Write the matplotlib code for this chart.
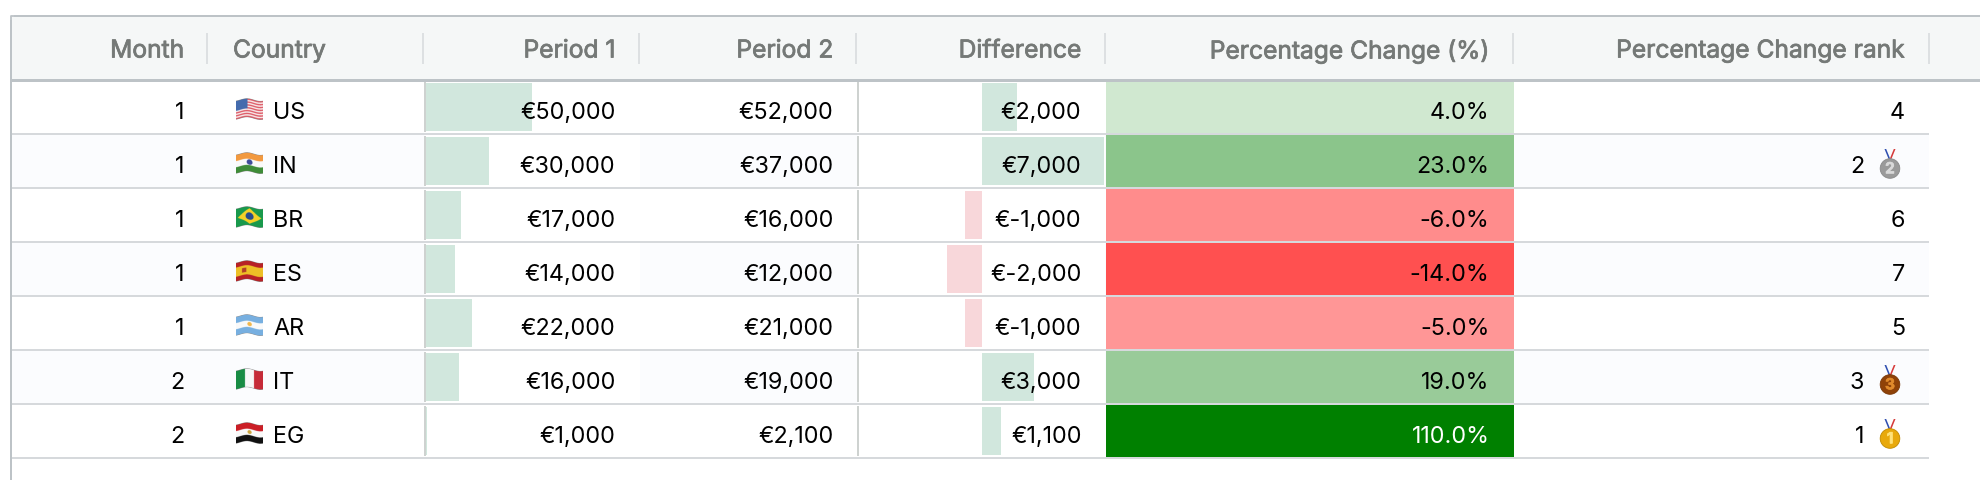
import numpy as np
import matplotlib
matplotlib.use("Agg")
import matplotlib.pyplot as plt
import matplotlib.patheffects as pe
from matplotlib.patches import Rectangle, Circle, Polygon, FancyBboxPatch

# ---- data ----
headers = ["Month", "Country", "Period 1", "Period 2", "Difference", "Percentage Change (%)", "Percentage Change rank"]
months = [1, 1, 1, 1, 1, 2, 2]
countries = ["US", "IN", "BR", "ES", "AR", "IT", "EG"]
period1 = [50000, 30000, 17000, 14000, 22000, 16000, 1000]
period2 = [52000, 37000, 16000, 12000, 21000, 19000, 2100]
difference = [2000, 7000, -1000, -2000, -1000, 3000, 1100]
pct_change = [4.0, 23.0, -6.0, -14.0, -5.0, 19.0, 110.0]
ranks = [4, 2, 6, 7, 5, 3, 1]

# ---- styles / layout (pixels) ----
plt.rcParams['font.family'] = ['Inter', 'DejaVu Sans']
W, H = 1980, 480
HEAD_TOP, HEAD_BOT = 16, 80
ROW_H = 54
SEPS = [207, 423, 639, 856, 1105, 1513, 1929]
HEAD_RIGHT = [184, None, 615.5, 833.5, 1081.5, 1489.5, 1905]
VAL_SIZE = 16.8
HEAD_SIZE = 17.7
HEAD_COLOR = "#757977"
BORDER = "#bdc3c7"
ROWLINE = "#d6d9dc"
STRIPE = "#fbfcfe"
BAR_POS = "#d1e7dd"
BAR_NEG = "#f8d7da"
P1_SCALE = 107 / 50000
DIFF_SCALE = 122 / 7000
DIFF_ZERO = 982
PCT_COLORS = ["#d0e8d0", "#8bc58b", "#ff8c8c", "#ff5050", "#ff9696", "#99cb99", "#008000"]
MEDALS = {1: ("#e8a90c", "#ffe27a", "#c08a00"),
          2: ("#9a9a9a", "#d9d9d9", "#8a8a8a"),
          3: ("#8f4208", "#e08a2c", "#7a3807")}

fig = plt.figure(figsize=(W / 100, H / 100), dpi=100)
ax = fig.add_axes([0, 0, 1, 1])
ax.axis("off")


def px_rect(x0, y0, x1, y1, color, z=1):
    ax.add_patch(Rectangle((x0, y0), x1 - x0, y1 - y0, facecolor=color, edgecolor="none", zorder=z))


def flag_color(code, u, v):
    if code == "US":
        if u < 0.42 and v < 0.54:
            return (0.27, 0.42, 0.68)
        return (0.87, 0.35, 0.40) if int(v * 13) % 2 == 0 else (0.97, 0.93, 0.93)
    if code == "IN":
        if (u - .5) ** 2 + ((v - .5) * .75) ** 2 < 0.012:
            return (0.25, 0.30, 0.60)
        return (0.95, 0.60, 0.25) if v < 1 / 3 else (0.98, 0.98, 0.98) if v < 2 / 3 else (0.25, 0.55, 0.22)
    if code == "BR":
        if (u - .5) ** 2 + ((v - .5) * .75) ** 2 < 0.022:
            return (0.15, 0.30, 0.55)
        if abs(u - .5) / .44 + abs(v - .5) / .42 < 1:
            return (0.96, 0.82, 0.15)
        return (0.10, 0.60, 0.30)
    if code == "ES":
        if 0.22 < u < 0.38 and 0.38 < v < 0.62:
            return (0.70, 0.25, 0.15)
        return (0.93, 0.75, 0.15) if 0.25 < v < 0.75 else (0.72, 0.13, 0.15)
    if code == "AR":
        if (u - .5) ** 2 + ((v - .5) * .75) ** 2 < 0.007:
            return (0.95, 0.72, 0.30)
        return (0.98, 0.98, 0.98) if 1 / 3 < v < 2 / 3 else (0.47, 0.69, 0.88)
    if code == "IT":
        return (0.10, 0.55, 0.27) if u < 1 / 3 else (0.97, 0.97, 0.97) if u < 2 / 3 else (0.78, 0.17, 0.22)
    if code == "EG":
        if (u - .5) ** 2 + ((v - .5) * .75) ** 2 < 0.006:
            return (0.80, 0.65, 0.25)
        return (0.80, 0.12, 0.15) if v < 1 / 3 else (0.98, 0.98, 0.98) if v < 2 / 3 else (0.07, 0.07, 0.07)
    return (1, 1, 1)


def draw_flag(code, x0, y0, w=27, h=22):
    ss = 6
    nx, ny = w * ss, h * ss
    img = np.zeros((ny, nx, 4))
    for j in range(ny):
        for i in range(nx):
            u = i / nx
            yy = j / ny
            off = -0.06 * np.sin(2 * np.pi * (u - 0.15))
            v = (yy - off - 0.08) / 0.84
            if 0 <= v < 1:
                img[j, i, :3] = flag_color(code, u, v)
                img[j, i, 3] = 1
    ax.imshow(img, extent=(x0, x0 + w, y0 + h, y0), aspect="auto", interpolation="antialiased", zorder=4)


def draw_medal(rank, cx, cy):
    base, light, dark = MEDALS[rank]
    top = cy - 19.5
    ax.add_patch(Polygon([(cx - 5.5, top), (cx - 3.8, top), (cx + 0.5, cy - 9), (cx - 1.2, cy - 9)],
                         facecolor="#2f4fb0", edgecolor="none", zorder=4))
    ax.add_patch(Polygon([(cx + 5.5, top), (cx + 3.8, top), (cx - 0.5, cy - 9), (cx + 1.2, cy - 9)],
                         facecolor="#d63a3a", edgecolor="none", zorder=4))
    ax.add_patch(Circle((cx, cy), 9.8, facecolor=base, edgecolor=dark, linewidth=0.6, zorder=5))
    ax.text(cx, cy + 0.3, str(rank), ha="center", va="center", fontsize=11, fontweight="bold",
            color=light, zorder=6,
            path_effects=[pe.withStroke(linewidth=0.5, foreground=light)])


# page / table frame
ax.add_patch(FancyBboxPatch((11, HEAD_TOP + 4), W + 40, H, boxstyle="round,pad=0,rounding_size=4",
                            facecolor="white", edgecolor="none", zorder=0))
ax.add_patch(FancyBboxPatch((11, HEAD_TOP), W + 40, HEAD_BOT - HEAD_TOP + 10,
                            boxstyle="round,pad=0,rounding_size=5",
                            facecolor="#f5f7f7", edgecolor="none", zorder=1))
px_rect(11, HEAD_BOT, W, H, "white", 1.5)

# rows
n = len(months)
for r in range(n):
    y0 = HEAD_BOT + r * ROW_H
    y1 = y0 + ROW_H
    ymid = y0 + 30.2
    if r % 2 == 1:
        px_rect(12, y0, SEPS[-1], y1, STRIPE, 2)
        px_rect(SEPS[1] + 2, y0, SEPS[2] + 1, y1, "white", 2.1)
        px_rect(SEPS[3] + 2, y0, SEPS[4], y1, "white", 2.1)

    # data bars
    px_rect(425, y0 + 3, 425 + period1[r] * P1_SCALE, y1 - 3, BAR_POS, 3)
    d = difference[r]
    px_rect(DIFF_ZERO, y0 + 3, DIFF_ZERO + d * DIFF_SCALE, y1 - 3, BAR_POS if d >= 0 else BAR_NEG, 3)
    # thin cell rules
    px_rect(424, y0 + 2, 426, y1 - 2, "#ced2d0", 3.5)
    px_rect(857, y0 + 2, 859, y1 - 2, "#ced2d0", 3.5)
    # heat cell
    px_rect(1106, y0 + 1, 1514, y1 - 1, PCT_COLORS[r], 3)

    # texts
    kw = dict(va="center_baseline", fontsize=VAL_SIZE, color="black", zorder=7)
    ax.text(HEAD_RIGHT[0], ymid, str(months[r]), ha="right", **kw)
    draw_flag(countries[r], 235.5, y0 + 18.5)
    ax.text(273, ymid, countries[r], ha="left", **kw)
    ax.text(HEAD_RIGHT[2], ymid, f"€{period1[r]:,}", ha="right", **kw)
    ax.text(HEAD_RIGHT[3], ymid, f"€{period2[r]:,}", ha="right", **kw)
    ax.text(HEAD_RIGHT[4], ymid, f"€{d:,}", ha="right", **kw)
    kw_pct = dict(kw)
    if pct_change[r] > 100:
        kw_pct["color"] = "white"
    ax.text(HEAD_RIGHT[5], ymid, f"{pct_change[r]:.1f}%", ha="right", **kw_pct)
    if ranks[r] <= 3:
        ax.text(1864, ymid, str(ranks[r]), ha="right", **kw)
        draw_medal(ranks[r], 1890, y0 + 34.5)
    else:
        ax.text(HEAD_RIGHT[6], ymid, str(ranks[r]), ha="right", **kw)

    # row rule
    px_rect(12, y1 - 1, SEPS[-1], y1 + 1, ROWLINE, 3.8)

# header
head_fx = [pe.withStroke(linewidth=0.55, foreground=HEAD_COLOR)]
for i, label in enumerate(headers):
    if HEAD_RIGHT[i] is None:
        ax.text(233, 48.5, label, ha="left", va="center_baseline", fontsize=HEAD_SIZE,
                color=HEAD_COLOR, zorder=7, path_effects=head_fx)
    else:
        ax.text(HEAD_RIGHT[i], 48.5, label, ha="right", va="center_baseline", fontsize=HEAD_SIZE,
                color=HEAD_COLOR, zorder=7, path_effects=head_fx)
for x in SEPS:
    px_rect(x - 1, 33, x + 1, 64, "#dde0e2", 7)

# frame lines
px_rect(14, HEAD_TOP - 1, W, HEAD_TOP + 1, BORDER, 8)
px_rect(10, HEAD_TOP + 4, 12, H, BORDER, 8)
ax.plot([11, 11, 15], [HEAD_TOP + 4, HEAD_TOP, HEAD_TOP], color=BORDER, lw=1.3, zorder=8)
px_rect(12, HEAD_BOT - 1.5, W, HEAD_BOT + 1.5, BORDER, 8)

ax.set_xlim(0, W)
ax.set_ylim(H, 0)
fig.savefig("out.png", dpi=100, facecolor="white")
